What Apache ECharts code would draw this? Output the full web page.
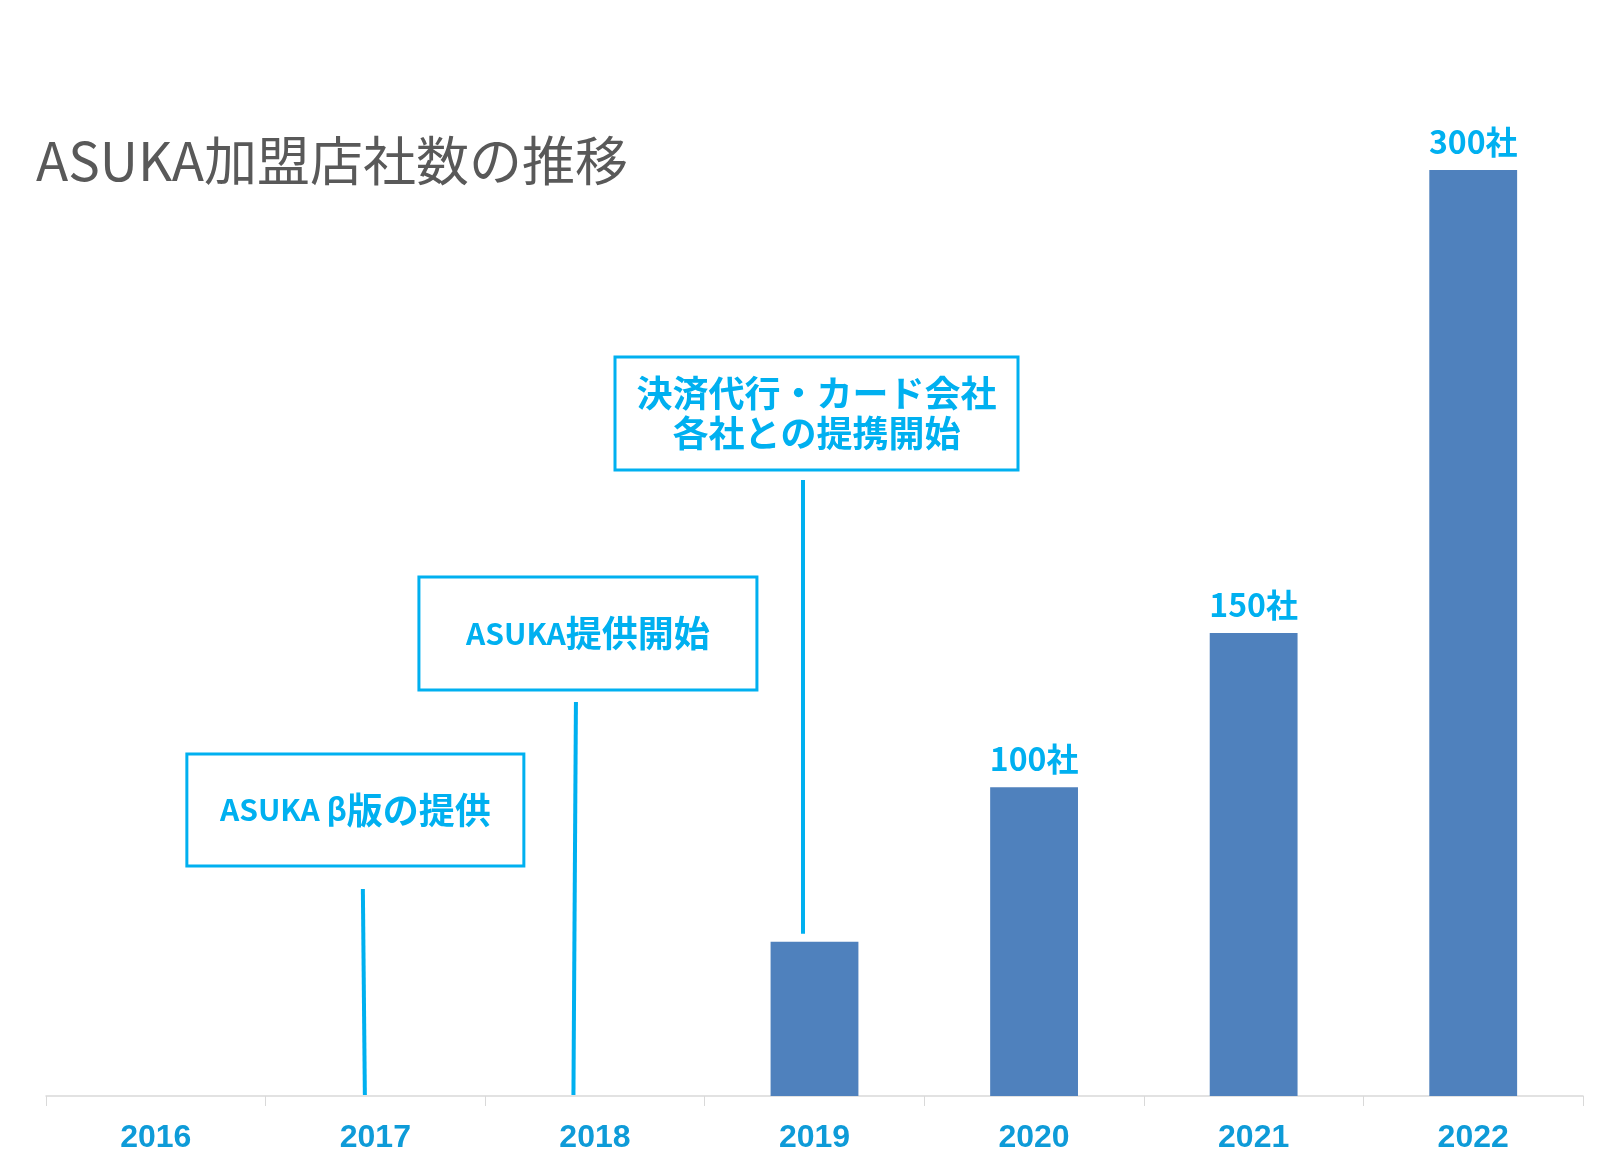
<!DOCTYPE html>
<html>
<head>
<meta charset="utf-8">
<script src="https://cdn.jsdelivr.net/npm/echarts@6/dist/echarts.min.js"></script>
<style>
html,body{margin:0;padding:0;background:#fff;}
#c{width:1600px;height:1162px;}
</style>
</head>
<body>
<div id="c"></div>
<script>
const titleText = 'ASUKA加盟店社数の推移';
const categories = ['2016', '2017', '2018', '2019', '2020', '2021', '2022'];
const counts = [0, 0, 0, 50, 100, 150, 300];
const labeledYears = ['2020', '2021', '2022'];
const labelSuffix = '社';
const eventYears = ['2017', '2018', '2019'];
const eventTexts = ['ASUKA β版の提供', 'ASUKA提供開始', '決済代行・カード会社\n各社との提携開始'];

const CJK = '"Noto Sans CJK JP", "Noto Sans", sans-serif';
const CYAN = '#00B0F0';

// pixel layout of each callout, relative to its category centre / axis baseline
const calloutLayout = [
  { boxDx: -20, boxW: 337, boxTop: -342, boxH: 112, lineTopDx: -12.5, lineBotDx: -10.5, lineTop: -207, lineToBar: false },
  { boxDx: -7,  boxW: 338, boxTop: -519, boxH: 113, lineTopDx: -19,   lineBotDx: -21.5, lineTop: -394, lineToBar: false },
  { boxDx: 2,   boxW: 403, boxTop: -739, boxH: 113, lineTopDx: -11.5, lineBotDx: -11.5, lineTop: -616, lineToBar: true }
];

// wrap latin runs (smaller, like the original's Japanese UI font) in rich-text tags
function toRich(s) {
  return s.split('\n').map(line => {
    const parts = line.split(/([\x20-\x7E\u0370-\u03FF]+)/).filter(p => p.length);
    return parts.map(p => (/^[\x20-\x7E\u0370-\u03FF]+$/.test(p) ? '{l|' + p + '}' : '{c|' + p + '}')).join('');
  }).join('\n');
}

const chart = echarts.init(document.getElementById('c'), null, { renderer: 'canvas' });

const option = {
  backgroundColor: '#ffffff',
  animation: false,
  title: {
    text: titleText,
    left: 31,
    top: 126,
    textStyle: { fontFamily: CJK, fontSize: 53, fontWeight: 'normal', color: '#595959', lineHeight: 60 }
  },
  grid: { left: 46, right: 17, top: 170, bottom: 66 },
  xAxis: {
    type: 'category',
    data: categories,
    boundaryGap: true,
    axisLine: { show: true, lineStyle: { color: '#D9D9D9', width: 1.5 } },
    axisTick: { show: true, length: 10, lineStyle: { color: '#D9D9D9', width: 1 } },
    axisLabel: {
      margin: 26,
      fontFamily: '"Liberation Sans", Arial, sans-serif',
      fontWeight: 'bold',
      fontSize: 32,
      color: '#0E9BD8'
    }
  },
  yAxis: { type: 'value', min: 0, max: 300, show: false, splitLine: { show: false } },
  series: [
    {
      type: 'bar',
      data: counts,
      barWidth: '40%',
      itemStyle: { color: '#4F81BD', borderWidth: 0 },
      label: {
        show: true,
        position: 'top',
        distance: 12,
        fontFamily: CJK,
        fontWeight: 'bold',
        fontSize: 32,
        color: CYAN,
        formatter: p => labeledYears.includes(p.name) ? p.value + labelSuffix : ''
      },
      z: 2
    },
    {
      type: 'custom',
      coordinateSystem: 'cartesian2d',
      data: eventYears.map((y, i) => [categories.indexOf(y), i]),
      encode: { x: 0 },
      z: 5,
      renderItem: function (params, api) {
        const idx = api.value(0);
        const k = api.value(1);
        const L = calloutLayout[k];
        const base = api.coord([idx, 0]);
        const cx = base[0];
        const by = base[1];
        const lineBottom = L.lineToBar ? api.coord([idx, counts[idx]])[1] - 8 : by - 1;
        const bx = cx + L.boxDx - L.boxW / 2;
        const byTop = by + L.boxTop;
        return {
          type: 'group',
          children: [
            {
              type: 'line',
              shape: { x1: cx + L.lineTopDx, y1: by + L.lineTop, x2: cx + L.lineBotDx, y2: lineBottom },
              style: { stroke: CYAN, lineWidth: 4 }
            },
            {
              type: 'rect',
              shape: { x: bx, y: byTop, width: L.boxW, height: L.boxH },
              style: { fill: '#ffffff', stroke: CYAN, lineWidth: 3 }
            },
            {
              type: 'text',
              style: {
                text: toRich(eventTexts[k]),
                x: cx + L.boxDx,
                y: byTop + L.boxH / 2,
                align: 'center',
                verticalAlign: 'middle',
                fill: CYAN,
                fontFamily: CJK,
                fontWeight: 'bold',
                fontSize: 36,
                rich: {
                  c: { fontFamily: CJK, fontWeight: 'bold', fontSize: 36, fill: CYAN, lineHeight: 40 },
                  l: { fontFamily: CJK, fontWeight: 'bold', fontSize: 30, fill: CYAN, lineHeight: 40 }
                }
              }
            }
          ]
        };
      }
    }
  ]
};

chart.setOption(option);
</script>
</body>
</html>
